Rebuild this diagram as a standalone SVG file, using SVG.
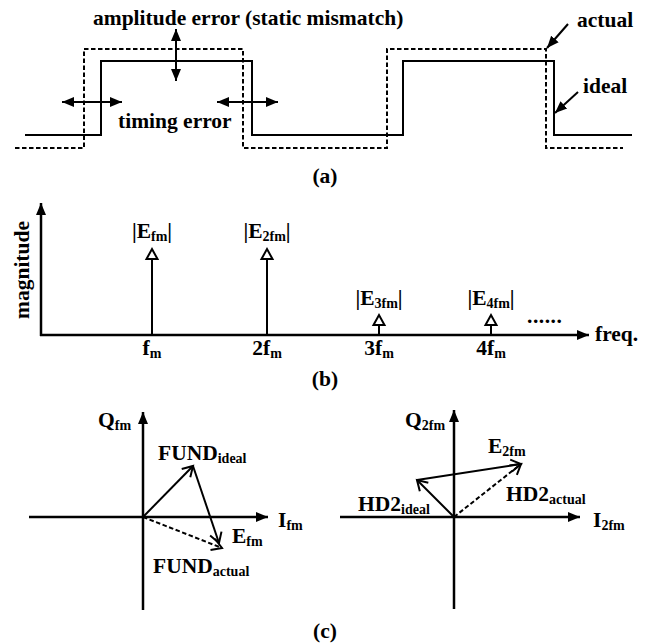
<svg xmlns="http://www.w3.org/2000/svg" width="652" height="643" viewBox="0 0 652 643">
<style>
text{font-family:"Liberation Serif","Times New Roman",serif;font-weight:bold;font-size:21.5px;fill:#000}
.sub{font-size:14px}
.ln{fill:none;stroke:#000;stroke-width:2}
.ax{fill:none;stroke:#000;stroke-width:2.5}
.dash{stroke-dasharray:4.5,2.5}
</style>
<defs>
<marker id="fa" markerUnits="userSpaceOnUse" markerWidth="14" markerHeight="12" refX="12" refY="5" orient="auto-start-reverse" viewBox="0 0 14 10">
<path d="M0,0 L12,5 L0,10 z" fill="#000"/>
</marker>
<marker id="ot" markerUnits="userSpaceOnUse" markerWidth="16" markerHeight="16" refX="11" refY="7" orient="auto" viewBox="-1 -1 16 16">
<path d="M1,1.5 L11,7 L1,12.5 z" fill="#fff" stroke="#000" stroke-width="2"/>
</marker>
<marker id="ov" markerUnits="userSpaceOnUse" markerWidth="16" markerHeight="16" refX="11" refY="7" orient="auto" viewBox="-1 -1 16 16">
<path d="M1,1 L11,7 L1,13" fill="none" stroke="#000" stroke-width="2"/>
</marker>
</defs>

<g id="panel-a">
<g id="waveforms">
<path id="ideal-wave" class="ln" d="M25,135 H101 V61 H252 V135 H403 V61 H554 V135 H632"/>
<path id="actual-wave" class="ln dash" d="M15,148 H84 V49 H243 V148 H387 V49 H546 V148 H623"/>
</g>
<g id="connectors-a">
<line class="ln" x1="176" y1="29" x2="176" y2="81" marker-start="url(#fa)" marker-end="url(#fa)"/>
<line class="ln" x1="62" y1="102" x2="122" y2="102" marker-start="url(#fa)" marker-end="url(#fa)"/>
<line class="ln" x1="217" y1="102" x2="278" y2="102" marker-start="url(#fa)" marker-end="url(#fa)"/>
<line class="ln" x1="568" y1="24" x2="547" y2="48" marker-end="url(#fa)"/>
<line class="ln" x1="578" y1="92" x2="555" y2="113" marker-end="url(#fa)"/>
</g>
<text id="lbl-amp" x="93" y="25">amplitude error (static mismatch)</text>
<text id="lbl-timing" x="118" y="128">timing error</text>
<text id="lbl-actual" x="577" y="27">actual</text>
<text id="lbl-ideal" x="583" y="93">ideal</text>
<text id="lbl-a" x="325" y="183" text-anchor="middle">(a)</text>
</g>

<g id="panel-b">
<g id="connectors-b">
<line class="ax" x1="41" y1="336" x2="41" y2="203" marker-end="url(#fa)"/>
<line class="ax" x1="40" y1="335" x2="589" y2="335" marker-end="url(#fa)"/>
<line class="ln" x1="152" y1="335" x2="152" y2="249" marker-end="url(#ot)"/>
<line class="ln" x1="267" y1="335" x2="267" y2="249" marker-end="url(#ot)"/>
<line class="ln" x1="379" y1="335" x2="379" y2="315" marker-end="url(#ot)"/>
<line class="ln" x1="491" y1="335" x2="491" y2="315" marker-end="url(#ot)"/>
</g>
<text id="lbl-mag" transform="translate(29,270) rotate(-90)" text-anchor="middle">magnitude</text>
<text id="lbl-freq" x="595" y="341">freq.</text>
<text x="527" y="323" letter-spacing="0.5">......</text>
<g id="h1"><text x="152" y="238" text-anchor="middle">|E<tspan class="sub" dy="3">fm</tspan><tspan dy="-3">|</tspan></text>
<text x="152" y="355" text-anchor="middle">f<tspan class="sub" dy="3">m</tspan></text></g>
<g id="h2"><text x="267" y="238" text-anchor="middle">|E<tspan class="sub" dy="3">2fm</tspan><tspan dy="-3">|</tspan></text>
<text x="267" y="355" text-anchor="middle">2f<tspan class="sub" dy="3">m</tspan></text></g>
<g id="h3"><text x="379" y="305" text-anchor="middle">|E<tspan class="sub" dy="3">3fm</tspan><tspan dy="-3">|</tspan></text>
<text x="379" y="355" text-anchor="middle">3f<tspan class="sub" dy="3">m</tspan></text></g>
<g id="h4"><text x="491" y="305" text-anchor="middle">|E<tspan class="sub" dy="3">4fm</tspan><tspan dy="-3">|</tspan></text>
<text x="491" y="355" text-anchor="middle">4f<tspan class="sub" dy="3">m</tspan></text></g>
<text id="lbl-b" x="325" y="386" text-anchor="middle">(b)</text>
</g>

<g id="panel-c">
<g id="connectors-c">
<line class="ax" x1="143" y1="610" x2="143" y2="412" marker-end="url(#fa)"/>
<line class="ax" x1="29" y1="517" x2="268" y2="517" marker-end="url(#fa)"/>
<line class="ln" x1="143" y1="517" x2="193" y2="466" marker-end="url(#ov)"/>
<line class="ln" x1="193" y1="466" x2="219" y2="543" marker-end="url(#ov)"/>
<line class="ln dash" x1="143" y1="517" x2="222" y2="548" marker-end="url(#ov)"/>
<line class="ax" x1="454" y1="609" x2="454" y2="410" marker-end="url(#fa)"/>
<line class="ax" x1="340" y1="517" x2="580" y2="517" marker-end="url(#fa)"/>
<line class="ln" x1="454" y1="517" x2="417" y2="480" marker-end="url(#ov)"/>
<line class="ln" x1="417" y1="480" x2="521" y2="464" marker-end="url(#ov)"/>
<line class="ln dash" x1="454" y1="517" x2="521" y2="464" marker-end="url(#ov)"/>
</g>
<text x="98" y="427">Q<tspan class="sub" dy="3">fm</tspan></text>
<text x="278" y="527">I<tspan class="sub" dy="3">fm</tspan></text>
<text x="158" y="460">FUND<tspan class="sub" dy="3">ideal</tspan></text>
<text x="232" y="543">E<tspan class="sub" dy="3">fm</tspan></text>
<text x="153" y="573">FUND<tspan class="sub" dy="3">actual</tspan></text>
<text x="405" y="427">Q<tspan class="sub" dy="3">2fm</tspan></text>
<text x="593" y="527">I<tspan class="sub" dy="3">2fm</tspan></text>
<text x="488" y="453">E<tspan class="sub" dy="3">2fm</tspan></text>
<text x="506" y="501">HD2<tspan class="sub" dy="3">actual</tspan></text>
<text x="358" y="511">HD2<tspan class="sub" dy="3">ideal</tspan></text>
<text id="lbl-c" x="325" y="638" text-anchor="middle">(c)</text>
</g>
</svg>
